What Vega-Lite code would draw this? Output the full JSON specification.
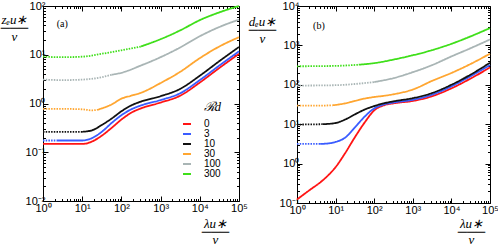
{
  "$schema": "https://vega.github.io/schema/vega-lite/v6.json",
  "padding": {"left": 0, "top": 0, "right": 0, "bottom": 0},
  "spacing": 0,
  "config": {
    "font": "Liberation Sans",
    "view": {"stroke": null},
    "axis": {"grid": false, "domainColor": "black", "tickColor": "black", "labelColor": "black", "labelFont": "Liberation Sans", "labelFontSize": 11, "labelOverlap": false, "labelBound": false, "labelFlush": false, "domainWidth": 1, "tickWidth": 1}
  },
  "datasets": {
    "panelA": [
      {"Rd": 0, "source": "computed", "x": 1, "y": 0.148},
      {"Rd": 0, "source": "computed", "x": 3.162, "y": 0.148},
      {"Rd": 0, "source": "computed", "x": 10, "y": 0.148},
      {"Rd": 0, "source": "computed", "x": 17.78, "y": 0.166},
      {"Rd": 0, "source": "computed", "x": 31.62, "y": 0.219},
      {"Rd": 0, "source": "computed", "x": 56.23, "y": 0.316},
      {"Rd": 0, "source": "computed", "x": 100, "y": 0.468},
      {"Rd": 0, "source": "computed", "x": 177.8, "y": 0.646},
      {"Rd": 0, "source": "computed", "x": 316.2, "y": 0.794},
      {"Rd": 0, "source": "computed", "x": 1000, "y": 1.047},
      {"Rd": 0, "source": "computed", "x": 3162, "y": 1.445},
      {"Rd": 0, "source": "computed", "x": 10000, "y": 2.692},
      {"Rd": 0, "source": "computed", "x": 31623, "y": 5.37},
      {"Rd": 0, "source": "computed", "x": 100000, "y": 10.47},

      {"Rd": 3, "source": "extrapolated", "x": 1, "y": 0.174},
      {"Rd": 3, "source": "extrapolated", "x": 2.24, "y": 0.174},
      {"Rd": 3, "source": "computed", "x": 2.24, "y": 0.174},
      {"Rd": 3, "source": "computed", "x": 10, "y": 0.174},
      {"Rd": 3, "source": "computed", "x": 17.78, "y": 0.195},
      {"Rd": 3, "source": "computed", "x": 31.62, "y": 0.263},
      {"Rd": 3, "source": "computed", "x": 56.23, "y": 0.398},
      {"Rd": 3, "source": "computed", "x": 100, "y": 0.575},
      {"Rd": 3, "source": "computed", "x": 177.8, "y": 0.759},
      {"Rd": 3, "source": "computed", "x": 316.2, "y": 0.912},
      {"Rd": 3, "source": "computed", "x": 1000, "y": 1.175},
      {"Rd": 3, "source": "computed", "x": 3162, "y": 1.622},
      {"Rd": 3, "source": "computed", "x": 10000, "y": 3.02},
      {"Rd": 3, "source": "computed", "x": 31623, "y": 6.026},
      {"Rd": 3, "source": "computed", "x": 100000, "y": 11.75},

      {"Rd": 10, "source": "extrapolated", "x": 1, "y": 0.263},
      {"Rd": 10, "source": "extrapolated", "x": 3.162, "y": 0.263},
      {"Rd": 10, "source": "extrapolated", "x": 10, "y": 0.263},
      {"Rd": 10, "source": "computed", "x": 10, "y": 0.263},
      {"Rd": 10, "source": "computed", "x": 17.78, "y": 0.282},
      {"Rd": 10, "source": "computed", "x": 31.62, "y": 0.363},
      {"Rd": 10, "source": "computed", "x": 56.23, "y": 0.49},
      {"Rd": 10, "source": "computed", "x": 100, "y": 0.692},
      {"Rd": 10, "source": "computed", "x": 177.8, "y": 0.912},
      {"Rd": 10, "source": "computed", "x": 316.2, "y": 1.096},
      {"Rd": 10, "source": "computed", "x": 1000, "y": 1.413},
      {"Rd": 10, "source": "computed", "x": 3162, "y": 1.995},
      {"Rd": 10, "source": "computed", "x": 10000, "y": 3.715},
      {"Rd": 10, "source": "computed", "x": 31623, "y": 7.413},
      {"Rd": 10, "source": "computed", "x": 100000, "y": 14.45},

      {"Rd": 30, "source": "extrapolated", "x": 1, "y": 0.776},
      {"Rd": 30, "source": "extrapolated", "x": 3.162, "y": 0.776},
      {"Rd": 30, "source": "extrapolated", "x": 10, "y": 0.759},
      {"Rd": 30, "source": "extrapolated", "x": 17.78, "y": 0.724},
      {"Rd": 30, "source": "extrapolated", "x": 24, "y": 0.741},
      {"Rd": 30, "source": "computed", "x": 24, "y": 0.741},
      {"Rd": 30, "source": "computed", "x": 31.62, "y": 0.794},
      {"Rd": 30, "source": "computed", "x": 56.23, "y": 0.955},
      {"Rd": 30, "source": "computed", "x": 100, "y": 1.259},
      {"Rd": 30, "source": "computed", "x": 177.8, "y": 1.445},
      {"Rd": 30, "source": "computed", "x": 316.2, "y": 1.66},
      {"Rd": 30, "source": "computed", "x": 1000, "y": 2.63},
      {"Rd": 30, "source": "computed", "x": 3162, "y": 4.467},
      {"Rd": 30, "source": "computed", "x": 10000, "y": 8.511},
      {"Rd": 30, "source": "computed", "x": 31623, "y": 14.79},
      {"Rd": 30, "source": "computed", "x": 100000, "y": 22.91},

      {"Rd": 100, "source": "extrapolated", "x": 1, "y": 3.09},
      {"Rd": 100, "source": "extrapolated", "x": 3.162, "y": 3.02},
      {"Rd": 100, "source": "extrapolated", "x": 10, "y": 3.09},
      {"Rd": 100, "source": "extrapolated", "x": 31.62, "y": 3.467},
      {"Rd": 100, "source": "extrapolated", "x": 56.23, "y": 3.89},
      {"Rd": 100, "source": "computed", "x": 56.23, "y": 3.89},
      {"Rd": 100, "source": "computed", "x": 100, "y": 4.266},
      {"Rd": 100, "source": "computed", "x": 316.2, "y": 6.026},
      {"Rd": 100, "source": "computed", "x": 1000, "y": 8.913},
      {"Rd": 100, "source": "computed", "x": 3162, "y": 14.13},
      {"Rd": 100, "source": "computed", "x": 10000, "y": 23.99},
      {"Rd": 100, "source": "computed", "x": 31623, "y": 37.15},
      {"Rd": 100, "source": "computed", "x": 100000, "y": 52.48},

      {"Rd": 300, "source": "extrapolated", "x": 1, "y": 9.12},
      {"Rd": 300, "source": "extrapolated", "x": 3.162, "y": 8.913},
      {"Rd": 300, "source": "extrapolated", "x": 10, "y": 9.12},
      {"Rd": 300, "source": "extrapolated", "x": 31.62, "y": 10.47},
      {"Rd": 300, "source": "extrapolated", "x": 100, "y": 12.3},
      {"Rd": 300, "source": "extrapolated", "x": 316.2, "y": 14.79},
      {"Rd": 300, "source": "computed", "x": 316.2, "y": 14.79},
      {"Rd": 300, "source": "computed", "x": 1000, "y": 20.89},
      {"Rd": 300, "source": "computed", "x": 3162, "y": 31.62},
      {"Rd": 300, "source": "computed", "x": 10000, "y": 51.29},
      {"Rd": 300, "source": "computed", "x": 31623, "y": 74.13},
      {"Rd": 300, "source": "computed", "x": 100000, "y": 100}
    ],
    "panelB": [
      {"Rd": 0, "source": "computed", "x": 1, "y": 0.123},
      {"Rd": 0, "source": "computed", "x": 2.14, "y": 0.214},
      {"Rd": 0, "source": "computed", "x": 4.57, "y": 0.372},
      {"Rd": 0, "source": "computed", "x": 10, "y": 0.813},
      {"Rd": 0, "source": "computed", "x": 17.78, "y": 1.862},
      {"Rd": 0, "source": "computed", "x": 31.62, "y": 4.677},
      {"Rd": 0, "source": "computed", "x": 56.23, "y": 10.96},
      {"Rd": 0, "source": "computed", "x": 100, "y": 22.39},
      {"Rd": 0, "source": "computed", "x": 177.8, "y": 30.2},
      {"Rd": 0, "source": "computed", "x": 316.2, "y": 33.88},
      {"Rd": 0, "source": "computed", "x": 1000, "y": 38.9},
      {"Rd": 0, "source": "computed", "x": 3162, "y": 51.29},
      {"Rd": 0, "source": "computed", "x": 10000, "y": 81.28},
      {"Rd": 0, "source": "computed", "x": 31623, "y": 144.5},
      {"Rd": 0, "source": "computed", "x": 100000, "y": 275.4},

      {"Rd": 3, "source": "extrapolated", "x": 1, "y": 3.162},
      {"Rd": 3, "source": "extrapolated", "x": 3.98, "y": 3.162},
      {"Rd": 3, "source": "computed", "x": 3.98, "y": 3.162},
      {"Rd": 3, "source": "computed", "x": 6.31, "y": 3.236},
      {"Rd": 3, "source": "computed", "x": 10, "y": 3.548},
      {"Rd": 3, "source": "computed", "x": 17.78, "y": 4.571},
      {"Rd": 3, "source": "computed", "x": 31.62, "y": 8.318},
      {"Rd": 3, "source": "computed", "x": 56.23, "y": 15.49},
      {"Rd": 3, "source": "computed", "x": 100, "y": 25.12},
      {"Rd": 3, "source": "computed", "x": 177.8, "y": 31.62},
      {"Rd": 3, "source": "computed", "x": 316.2, "y": 35.48},
      {"Rd": 3, "source": "computed", "x": 1000, "y": 41.69},
      {"Rd": 3, "source": "computed", "x": 3162, "y": 56.23},
      {"Rd": 3, "source": "computed", "x": 10000, "y": 91.2},
      {"Rd": 3, "source": "computed", "x": 31623, "y": 166},
      {"Rd": 3, "source": "computed", "x": 100000, "y": 316.2},

      {"Rd": 10, "source": "extrapolated", "x": 1, "y": 9.772},
      {"Rd": 10, "source": "extrapolated", "x": 4.57, "y": 10},
      {"Rd": 10, "source": "computed", "x": 4.57, "y": 10},
      {"Rd": 10, "source": "computed", "x": 10, "y": 10.72},
      {"Rd": 10, "source": "computed", "x": 17.78, "y": 13.18},
      {"Rd": 10, "source": "computed", "x": 31.62, "y": 17.78},
      {"Rd": 10, "source": "computed", "x": 56.23, "y": 23.44},
      {"Rd": 10, "source": "computed", "x": 100, "y": 28.84},
      {"Rd": 10, "source": "computed", "x": 177.8, "y": 33.88},
      {"Rd": 10, "source": "computed", "x": 316.2, "y": 38.02},
      {"Rd": 10, "source": "computed", "x": 1000, "y": 45.71},
      {"Rd": 10, "source": "computed", "x": 3162, "y": 61.66},
      {"Rd": 10, "source": "computed", "x": 10000, "y": 100},
      {"Rd": 10, "source": "computed", "x": 31623, "y": 182},
      {"Rd": 10, "source": "computed", "x": 100000, "y": 363.1},

      {"Rd": 30, "source": "extrapolated", "x": 1, "y": 29.51},
      {"Rd": 30, "source": "extrapolated", "x": 3.162, "y": 29.51},
      {"Rd": 30, "source": "extrapolated", "x": 8.32, "y": 30.2},
      {"Rd": 30, "source": "computed", "x": 8.32, "y": 30.2},
      {"Rd": 30, "source": "computed", "x": 10, "y": 30.9},
      {"Rd": 30, "source": "computed", "x": 17.78, "y": 33.88},
      {"Rd": 30, "source": "computed", "x": 31.62, "y": 38.9},
      {"Rd": 30, "source": "computed", "x": 56.23, "y": 44.67},
      {"Rd": 30, "source": "computed", "x": 100, "y": 48.98},
      {"Rd": 30, "source": "computed", "x": 177.8, "y": 52.48},
      {"Rd": 30, "source": "computed", "x": 316.2, "y": 57.54},
      {"Rd": 30, "source": "computed", "x": 1000, "y": 75.86},
      {"Rd": 30, "source": "computed", "x": 3162, "y": 125.9},
      {"Rd": 30, "source": "computed", "x": 10000, "y": 199.5},
      {"Rd": 30, "source": "computed", "x": 31623, "y": 338.8},
      {"Rd": 30, "source": "computed", "x": 100000, "y": 616.6},

      {"Rd": 100, "source": "extrapolated", "x": 1, "y": 95.5},
      {"Rd": 100, "source": "extrapolated", "x": 10, "y": 97.7},
      {"Rd": 100, "source": "extrapolated", "x": 31.62, "y": 104.7},
      {"Rd": 100, "source": "extrapolated", "x": 100, "y": 117.5},
      {"Rd": 100, "source": "computed", "x": 100, "y": 117.5},
      {"Rd": 100, "source": "computed", "x": 316.2, "y": 147.9},
      {"Rd": 100, "source": "computed", "x": 1000, "y": 208.9},
      {"Rd": 100, "source": "computed", "x": 3162, "y": 316.2},
      {"Rd": 100, "source": "computed", "x": 10000, "y": 524.8},
      {"Rd": 100, "source": "computed", "x": 31623, "y": 851.1},
      {"Rd": 100, "source": "computed", "x": 100000, "y": 1413},

      {"Rd": 300, "source": "extrapolated", "x": 1, "y": 295.1},
      {"Rd": 300, "source": "extrapolated", "x": 10, "y": 302},
      {"Rd": 300, "source": "extrapolated", "x": 39.8, "y": 323.6},
      {"Rd": 300, "source": "computed", "x": 39.8, "y": 323.6},
      {"Rd": 300, "source": "computed", "x": 100, "y": 354.8},
      {"Rd": 300, "source": "computed", "x": 316.2, "y": 436.5},
      {"Rd": 300, "source": "computed", "x": 1000, "y": 562.3},
      {"Rd": 300, "source": "computed", "x": 3162, "y": 758.6},
      {"Rd": 300, "source": "computed", "x": 10000, "y": 1096},
      {"Rd": 300, "source": "computed", "x": 31623, "y": 1698},
      {"Rd": 300, "source": "computed", "x": 100000, "y": 2754}
    ],
    "labelA": [{"panel": "(a)"}],
    "labelB": [{"panel": "(b)"}]
  },
  "resolve": {"scale": {"color": "independent", "strokeDash": "independent"}, "legend": {"color": "independent", "strokeDash": "independent"}},
  "hconcat": [
    {
      "width": 196,
      "height": 195,
      "resolve": {"axis": {"x": "independent", "y": "independent"}},
      "layer": [
        {
          "data": {"name": "panelA"},
          "mark": {"type": "line", "interpolate": "monotone", "strokeWidth": 1.8, "strokeCap": "butt"},
          "encoding": {
            "x": {"field": "x", "type": "quantitative",
              "scale": {"type": "log", "domain": [1, 100000], "nice": false},
              "axis": {"orient": "bottom",
                "values": [1,2,3,4,5,6,7,8,9,10,20,30,40,50,60,70,80,90,100,200,300,400,500,600,700,800,900,1000,2000,3000,4000,5000,6000,7000,8000,9000,10000,20000,30000,40000,50000,60000,70000,80000,90000,100000],
                "labelExpr": "datum.value==1?'10⁰':datum.value==10?'10¹':datum.value==100?'10²':datum.value==1000?'10³':datum.value==10000?'10⁴':datum.value==100000?'10⁵':''",
                "tickSize": {"condition": {"test": "abs(log(datum.value)/LN10-round(log(datum.value)/LN10))<0.000001", "value": -5}, "value": -2.5},
                "labelPadding": 6,
                "title": ["λu∗", "───", "ν"],
                "titleX": 172, "titleY": 16, "titleBaseline": "top", "titleAlign": "center", "titleAnchor": "start",
                "titleFont": "Liberation Serif", "titleFontStyle": "italic", "titleFontWeight": "normal", "titleFontSize": 13, "titleLineHeight": 8, "titleColor": "black"}},
            "y": {"field": "y", "type": "quantitative",
              "scale": {"type": "log", "domain": [0.01, 100], "nice": false},
              "axis": {"orient": "left",
                "values": [0.01,0.02,0.03,0.04,0.05,0.06,0.07,0.08,0.09,0.1,0.2,0.3,0.4,0.5,0.6,0.7,0.8,0.9,1,2,3,4,5,6,7,8,9,10,20,30,40,50,60,70,80,90,100],
                "labelExpr": "datum.value==0.01?'10⁻²':datum.value==0.1?'10⁻¹':datum.value==1?'10⁰':datum.value==10?'10¹':datum.value==100?'10²':''",
                "tickSize": {"condition": {"test": "abs(log(datum.value)/LN10-round(log(datum.value)/LN10))<0.000001", "value": -5}, "value": -2.5},
                "labelPadding": 3,
                "title": ["zₑu∗", "───", "ν"],
                "titleAngle": 0, "titleX": -29, "titleY": 7, "titleBaseline": "top", "titleAlign": "center", "titleAnchor": "start",
                "titleFont": "Liberation Serif", "titleFontStyle": "italic", "titleFontWeight": "normal", "titleFontSize": 13, "titleLineHeight": 8.5, "titleColor": "black"}},
            "color": {"field": "Rd", "type": "nominal",
              "scale": {"domain": [0, 3, 10, 30, 100, 300], "range": ["#ff1414", "#3a5cff", "#111111", "#ffa631", "#a9b5b5", "#3fdf1a"]},
              "legend": {"orient": "none", "legendX": 139, "legendY": 95, "title": "ℛd",
                "titleFont": "Liberation Serif", "titleFontStyle": "italic", "titleFontWeight": "normal", "titleFontSize": 13, "titleColor": "black", "titleAnchor": "end",
                "labelFont": "Liberation Sans", "labelFontSize": 10, "labelColor": "black", "labelOffset": 12,
                "symbolType": "stroke", "symbolStrokeWidth": 2, "symbolSize": 64, "rowPadding": -3, "padding": 0}},
            "strokeDash": {"field": "source", "type": "nominal",
              "scale": {"domain": ["computed", "extrapolated"], "range": [[1, 0], [1.5, 1.2]]}, "legend": null},
            "detail": {"field": "source"}
          }
        },
        {
          "data": {"name": "labelA"},
          "mark": {"type": "text", "font": "Liberation Serif", "fontSize": 10, "color": "black", "align": "center", "baseline": "middle"},
          "encoding": {
            "x": {"datum": 3.1, "type": "quantitative",
              "scale": {"type": "log", "domain": [1, 100000], "nice": false},
              "axis": {"orient": "top", "labels": false, "title": null,
                "values": [1,2,3,4,5,6,7,8,9,10,20,30,40,50,60,70,80,90,100,200,300,400,500,600,700,800,900,1000,2000,3000,4000,5000,6000,7000,8000,9000,10000,20000,30000,40000,50000,60000,70000,80000,90000,100000],
                "tickSize": {"condition": {"test": "abs(log(datum.value)/LN10-round(log(datum.value)/LN10))<0.000001", "value": -5}, "value": -2.5}}},
            "y": {"datum": 43, "type": "quantitative",
              "scale": {"type": "log", "domain": [0.01, 100], "nice": false},
              "axis": {"orient": "right", "labels": false, "title": null,
                "values": [0.01,0.02,0.03,0.04,0.05,0.06,0.07,0.08,0.09,0.1,0.2,0.3,0.4,0.5,0.6,0.7,0.8,0.9,1,2,3,4,5,6,7,8,9,10,20,30,40,50,60,70,80,90,100],
                "tickSize": {"condition": {"test": "abs(log(datum.value)/LN10-round(log(datum.value)/LN10))<0.000001", "value": -5}, "value": -2.5}}},
            "text": {"field": "panel"}
          }
        }
      ]
    },
    {
      "width": 193,
      "height": 197,
      "resolve": {"axis": {"x": "independent", "y": "independent"}},
      "layer": [
        {
          "data": {"name": "panelB"},
          "mark": {"type": "line", "interpolate": "monotone", "strokeWidth": 1.8, "strokeCap": "butt"},
          "encoding": {
            "x": {"field": "x", "type": "quantitative",
              "scale": {"type": "log", "domain": [1, 100000], "nice": false},
              "axis": {"orient": "bottom",
                "values": [1,2,3,4,5,6,7,8,9,10,20,30,40,50,60,70,80,90,100,200,300,400,500,600,700,800,900,1000,2000,3000,4000,5000,6000,7000,8000,9000,10000,20000,30000,40000,50000,60000,70000,80000,90000,100000],
                "labelExpr": "datum.value==1?'10⁰':datum.value==10?'10¹':datum.value==100?'10²':datum.value==1000?'10³':datum.value==10000?'10⁴':datum.value==100000?'10⁵':''",
                "tickSize": {"condition": {"test": "abs(log(datum.value)/LN10-round(log(datum.value)/LN10))<0.000001", "value": -5}, "value": -2.5},
                "labelPadding": 6,
                "title": ["λu∗", "───", "ν"],
                "titleX": 174, "titleY": 14, "titleBaseline": "top", "titleAlign": "center", "titleAnchor": "start",
                "titleFont": "Liberation Serif", "titleFontStyle": "italic", "titleFontWeight": "normal", "titleFontSize": 13, "titleLineHeight": 8, "titleColor": "black"}},
            "y": {"field": "y", "type": "quantitative",
              "scale": {"type": "log", "domain": [0.1, 10000], "nice": false},
              "axis": {"orient": "left",
                "values": [0.1,0.2,0.3,0.4,0.5,0.6,0.7,0.8,0.9,1,2,3,4,5,6,7,8,9,10,20,30,40,50,60,70,80,90,100,200,300,400,500,600,700,800,900,1000,2000,3000,4000,5000,6000,7000,8000,9000,10000],
                "labelExpr": "datum.value==0.1?'10⁻¹':datum.value==1?'10⁰':datum.value==10?'10¹':datum.value==100?'10²':datum.value==1000?'10³':datum.value==10000?'10⁴':''",
                "tickSize": {"condition": {"test": "abs(log(datum.value)/LN10-round(log(datum.value)/LN10))<0.000001", "value": -5}, "value": -2.5},
                "labelPadding": 3,
                "title": ["dₑu∗", "───", "ν"],
                "titleAngle": 0, "titleX": -35, "titleY": 9, "titleBaseline": "top", "titleAlign": "center", "titleAnchor": "start",
                "titleFont": "Liberation Serif", "titleFontStyle": "italic", "titleFontWeight": "normal", "titleFontSize": 13, "titleLineHeight": 8.5, "titleColor": "black"}},
            "color": {"field": "Rd", "type": "nominal",
              "scale": {"domain": [0, 3, 10, 30, 100, 300], "range": ["#ff1414", "#3a5cff", "#111111", "#ffa631", "#a9b5b5", "#3fdf1a"]},
              "legend": null},
            "strokeDash": {"field": "source", "type": "nominal",
              "scale": {"domain": ["computed", "extrapolated"], "range": [[1, 0], [1.5, 1.2]]}, "legend": null},
            "detail": {"field": "source"}
          }
        },
        {
          "data": {"name": "labelB"},
          "mark": {"type": "text", "font": "Liberation Serif", "fontSize": 10, "color": "black", "align": "center", "baseline": "middle"},
          "encoding": {
            "x": {"datum": 3.7, "type": "quantitative",
              "scale": {"type": "log", "domain": [1, 100000], "nice": false},
              "axis": {"orient": "top", "labels": false, "title": null,
                "values": [1,2,3,4,5,6,7,8,9,10,20,30,40,50,60,70,80,90,100,200,300,400,500,600,700,800,900,1000,2000,3000,4000,5000,6000,7000,8000,9000,10000,20000,30000,40000,50000,60000,70000,80000,90000,100000],
                "tickSize": {"condition": {"test": "abs(log(datum.value)/LN10-round(log(datum.value)/LN10))<0.000001", "value": -5}, "value": -2.5}}},
            "y": {"datum": 3162, "type": "quantitative",
              "scale": {"type": "log", "domain": [0.1, 10000], "nice": false},
              "axis": {"orient": "right", "labels": false, "title": null,
                "values": [0.1,0.2,0.3,0.4,0.5,0.6,0.7,0.8,0.9,1,2,3,4,5,6,7,8,9,10,20,30,40,50,60,70,80,90,100,200,300,400,500,600,700,800,900,1000,2000,3000,4000,5000,6000,7000,8000,9000,10000],
                "tickSize": {"condition": {"test": "abs(log(datum.value)/LN10-round(log(datum.value)/LN10))<0.000001", "value": -5}, "value": -2.5}}},
            "text": {"field": "panel"}
          }
        }
      ]
    }
  ]
}
